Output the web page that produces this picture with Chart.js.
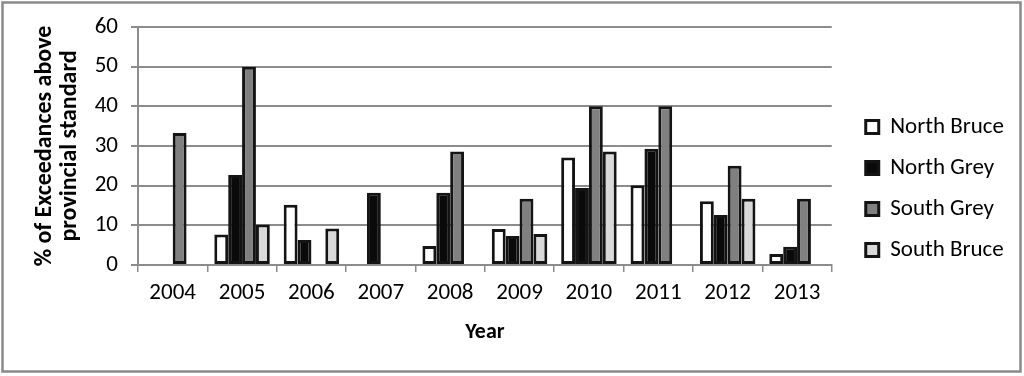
<!DOCTYPE html>
<html>
<head>
<meta charset="utf-8">
<style>
  html, body { margin: 0; padding: 0; background: #fff; }
  #wrap { width: 1024px; height: 376px; position: relative; }
</style>
<script src="https://cdn.jsdelivr.net/npm/chart.js@4.4.0/dist/chart.umd.min.js"></script>
</head>
<body>
<div id="wrap"><canvas id="exceedChart" width="1024" height="376"></canvas></div>
<script>
// data
const years = ['2004', '2005', '2006', '2007', '2008', '2009', '2010', '2011', '2012', '2013'];
const northBruce = [0, 7.7, 15.2, 0, 4.8, 9.1, 27.1, 20.1, 16.1, 2.8];
const northGrey = [0, 22.7, 6.3, 18.2, 18.2, 7.3, 19.4, 29.3, 12.6, 4.6];
const southGrey = [33.3, 50, 0, 0, 28.6, 16.7, 40, 40, 25, 16.7];
const southBruce = [0, 10.2, 9.2, 0, 0, 7.8, 28.6, 0, 16.7, 0];
const yTicks = [0, 10, 20, 30, 40, 50, 60];

const FONT = 'Carlito, Calibri, Lato, sans-serif';

// grey frame round the whole picture
const framePlugin = {
    id: 'frame',
    afterDraw(chart) {
        const ctx = chart.ctx;
        ctx.save();
        ctx.strokeStyle = '#8a8a8a';
        ctx.lineWidth = 2.5;
        ctx.strokeRect(2.5, 2.5, 1018, 369);
        ctx.restore();
    }
};

// leave a wider gap between plot and legend without spreading the rows
const legendGapPlugin = {
    id: 'legendGap',
    beforeLayout(chart) {
        const lg = chart.legend;
        if (lg && !lg._gapPatched) {
            const fit = lg.fit;
            lg.fit = function () { fit.call(this); this.width += 6; };
            lg._gapPatched = true;
        }
    },
    afterLayout(chart) {
        if (chart.legend) chart.legend.left += 16;
    }
};

function barSet(label, data, fill) {
    return {
        label: label,
        data: data,
        backgroundColor: fill,
        borderColor: '#141414',
        borderWidth: 3,
        borderSkipped: false
    };
}

const ctx = document.getElementById('exceedChart').getContext('2d');
const chart = new Chart(ctx, {
    type: 'bar',
    data: {
        labels: years,
        datasets: [
            barSet('North Bruce', northBruce, '#ffffff'),
            barSet('North Grey', northGrey, '#0a0a0a'),
            barSet('South Grey', southGrey, '#808080'),
            barSet('South Bruce', southBruce, '#d9d9d9')
        ]
    },
    plugins: [framePlugin, legendGapPlugin],
    options: {
        responsive: false,
        animation: false,
        devicePixelRatio: 1,
        layout: { padding: { top: 27, right: 20, bottom: 26, left: 30 } },
        datasets: { bar: { categoryPercentage: 0.8, barPercentage: 1.0 } },
        scales: {
            x: {
                grid: { offset: true, drawOnChartArea: false, color: '#8c8c8c', lineWidth: 1.5, tickLength: 7 },
                border: { color: '#8c8c8c', width: 2 },
                ticks: { color: '#000', font: { family: FONT, size: 23 }, padding: 7 },
                title: { display: true, text: 'Year', color: '#000', font: { family: FONT, size: 22, weight: 'bold' }, padding: { top: 6 } }
            },
            y: {
                min: 0,
                max: 60,
                afterBuildTicks(scale) {
                    scale.ticks = yTicks.map(v => ({ value: v }));
                },
                afterFit(scale) {
                    scale.width = 108;
                },
                grid: { color: '#8c8c8c', lineWidth: 2, tickLength: 7 },
                border: { color: '#8c8c8c', width: 2 },
                ticks: { color: '#000', font: { family: FONT, size: 23 }, padding: 13 },
                title: {
                    display: true,
                    text: ['% of Exceedances above', 'provincial standard'],
                    color: '#000',
                    font: { family: FONT, size: 24, weight: 'bold', lineHeight: 1.05 },
                    padding: 2
                }
            }
        },
        plugins: {
            legend: {
                position: 'right',
                labels: {
                    color: '#000',
                    font: { family: FONT, size: 23 },
                    boxWidth: 13,
                    boxHeight: 13,
                    padding: 18
                }
            },
            tooltip: { enabled: false }
        }
    }
});
</script>
</body>
</html>
